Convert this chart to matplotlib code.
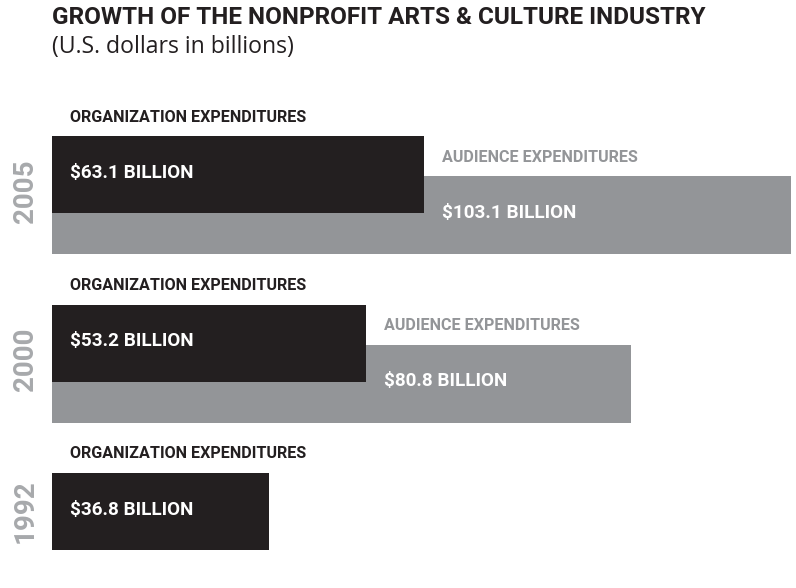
import matplotlib
matplotlib.use("Agg")
import matplotlib.pyplot as plt

plt.rcParams['font.family'] = ['Roboto', 'DejaVu Sans']

# data
years = ['2005', '2000', '1992']
org_spend = [63.1, 53.2, 36.8]          # organization expenditures, $B
aud_spend = [103.1, 80.8, None]         # audience expenditures, $B (none reported for 1992)

title = 'GROWTH OF THE NONPROFIT ARTS & CULTURE INDUSTRY'
subtitle = '(U.S. dollars in billions)'

# colours
DARK = '#231f20'
GREY = '#939598'
YEAR_GREY = '#a7a9ac'

W, H = 796, 588
fig = plt.figure(figsize=(W / 100, H / 100), dpi=100)

# audience bars on the main axes, organization bars on a twin x scale
x0 = 52            # left edge of all bars, px
aud_px = 7.168     # px per billion, audience
org_px = 5.9       # px per billion, organization

ax = fig.add_axes([0, 0, 1, 1])
ax.set_xlim(-x0 / aud_px, (W - x0) / aud_px)
ax.set_ylim(H, 0)
ax.axis('off')

ax2 = ax.twiny()
ax2.set_xlim(-x0 / org_px, (W - x0) / org_px)
ax2.set_ylim(H, 0)
ax2.axis('off')
ax2.set_zorder(ax.get_zorder() + 1)
ax2.patch.set_visible(False)

first_top = 136
step = 168.5
bar_h = 77
gap = 40

for i, yr in enumerate(years):
    top = first_top + i * step
    org = org_spend[i]
    aud = aud_spend[i]

    ax2.barh(top, org, height=bar_h, align='edge', color=DARK, lw=0)
    ax2.text(3.0, top - 19, 'ORGANIZATION EXPENDITURES', color=DARK,
             fontsize=11.6, fontweight='bold', va='center', ha='left')
    ax2.text(3.0, top + 37, f'${org} BILLION', color='white',
             fontsize=13.6, fontweight='bold', va='center', ha='left')

    span_bot = top + bar_h
    if aud is not None:
        ax.barh(top + gap, aud, height=bar_h + 1, align='edge', color=GREY, lw=0)
        ax2.annotate('AUDIENCE EXPENDITURES', (org, top + 21),
                     xytext=(13, 0), textcoords='offset points',
                     color=GREY, fontsize=11.6, fontweight='bold',
                     va='center', ha='left')
        ax2.annotate(f'${aud} BILLION', (org, top + gap + 37),
                     xytext=(13, 0), textcoords='offset points',
                     color='white', fontsize=13.6, fontweight='bold',
                     va='center', ha='left')
        span_bot = top + gap + bar_h + 1
    mid = (top + span_bot) / 2 - (4 if aud is not None else 0)
    ax.annotate(yr, (25, H - mid), xycoords='figure pixels',
                rotation=90, color=YEAR_GREY, fontsize=20, fontweight='bold',
                va='center', ha='center')

fig.text(x0 / W, 1 - 18 / H, title, color=DARK, fontsize=17.5,
         fontweight='bold', va='center', ha='left')
fig.text(x0 / W, 1 - 47 / H, subtitle, color=DARK, fontsize=16.6,
         family=['Open Sans', 'DejaVu Sans'], va='center', ha='left')

fig.savefig('out.png', dpi=100)
